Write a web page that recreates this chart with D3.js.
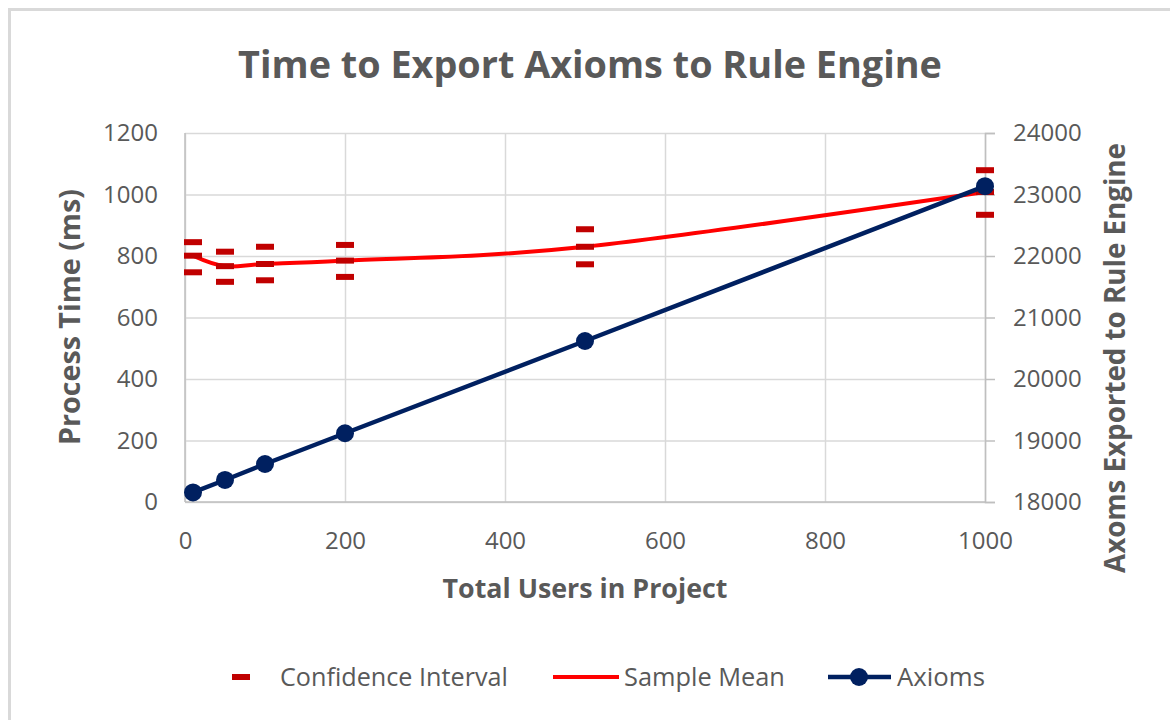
<!DOCTYPE html>
<html>
<head>
<meta charset="utf-8">
<script src="https://cdn.jsdelivr.net/npm/d3@7"></script>
<style>
  body { margin: 0; background: #fff; }
  svg { font-family: "Open Sans", sans-serif; }
</style>
</head>
<body>
<div id="chart"></div>
<script>
// values
const users = [10, 50, 100, 200, 500, 1000];
const sampleMean = [801, 767, 774, 785, 830, 1008];
const ciUpper = [845, 814, 830, 836, 887, 1079];
const ciLower = [747, 716, 721, 732, 773, 934];
const axioms = [18155, 18358, 18618, 19118, 20618, 23135];

const xTicks = [0, 200, 400, 600, 800, 1000];
const timeTicks = [0, 200, 400, 600, 800, 1000, 1200];
const axiomTicks = [18000, 19000, 20000, 21000, 22000, 23000, 24000];

const width = 1170, height = 720;
const plotLeft = 185, plotRight = 985, plotTop = 133, plotBottom = 502;
const grey = '#595959', gridColor = '#d9d9d9', axisColor = '#bfbfbf';
const ciColor = '#c00000', meanColor = '#ff0000', axiomColor = '#002060';

const svg = d3.select('#chart').append('svg')
  .attr('width', width)
  .attr('height', height);

// chart frame (only top and left edges are in view)
svg.append('path')
  .attr('d', `M9.5,${height} V9.5 H${width}`)
  .attr('fill', 'none')
  .attr('stroke', gridColor)
  .attr('stroke-width', 3);

const x = d3.scaleLinear().domain([0, 1000]).range([plotLeft, plotRight]);
const yTime = d3.scaleLinear().domain([0, 1200]).range([plotBottom, plotTop]);
const yAxioms = d3.scaleLinear().domain([18000, 24000]).range([plotBottom, plotTop]);

// gridlines
svg.append('g')
  .attr('transform', `translate(${plotLeft},0)`)
  .call(d3.axisLeft(yTime).tickValues(timeTicks).tickSize(-(plotRight - plotLeft)).tickFormat(''))
  .call(g => g.select('.domain').remove())
  .call(g => g.selectAll('line').attr('stroke', gridColor).attr('stroke-width', 1.5));

svg.append('g')
  .attr('transform', `translate(0,${plotBottom})`)
  .call(d3.axisBottom(x).tickValues(xTicks).tickSize(-(plotBottom - plotTop)).tickFormat(''))
  .call(g => g.select('.domain').remove())
  .call(g => g.selectAll('line').attr('stroke', gridColor).attr('stroke-width', 1.5));

// axis lines
svg.append('line')
  .attr('x1', plotLeft).attr('x2', plotLeft).attr('y1', plotTop).attr('y2', plotBottom)
  .attr('stroke', axisColor).attr('stroke-width', 1.5);
svg.append('line')
  .attr('x1', plotLeft).attr('x2', plotRight).attr('y1', plotBottom).attr('y2', plotBottom)
  .attr('stroke', axisColor).attr('stroke-width', 1.5);

// tick labels
const fontSize = 24;
const leftAxis = svg.append('g')
  .attr('transform', `translate(${plotLeft},0)`)
  .call(d3.axisLeft(yTime).tickValues(timeTicks).tickSize(0).tickPadding(27).tickFormat(d3.format('d')));
const bottomAxis = svg.append('g')
  .attr('transform', `translate(0,${plotBottom})`)
  .call(d3.axisBottom(x).tickValues(xTicks).tickSize(0).tickPadding(30).tickFormat(d3.format('d')));
const rightAxis = svg.append('g')
  .attr('transform', `translate(${plotRight},0)`)
  .call(d3.axisRight(yAxioms).tickValues(axiomTicks).tickSize(10).tickPadding(18).tickFormat(d3.format('d')));

[leftAxis, bottomAxis, rightAxis].forEach(g => {
  g.select('.domain').attr('stroke', axisColor).attr('stroke-width', 1.5);
  g.selectAll('.tick line').attr('stroke', axisColor).attr('stroke-width', 1.5);
  g.selectAll('text')
    .attr('fill', grey)
    .style('font-size', fontSize + 'px')
    .style('font-family', '"Open Sans", sans-serif');
});
leftAxis.select('.domain').remove();
bottomAxis.select('.domain').remove();

// mean line
const meanLine = d3.line()
  .x((d, i) => x(users[i]))
  .y(d => yTime(d))
  .curve(d3.curveCardinal.tension(0));

svg.append('path')
  .datum(sampleMean)
  .attr('d', meanLine)
  .attr('fill', 'none')
  .attr('stroke', meanColor)
  .attr('stroke-width', 4);

// confidence interval dashes: upper, mean, lower
const dashes = [];
users.forEach((u, i) => {
  dashes.push({ u: u, v: ciUpper[i] });
  dashes.push({ u: u, v: sampleMean[i] });
  dashes.push({ u: u, v: ciLower[i] });
});

svg.append('g')
  .selectAll('rect')
  .data(dashes)
  .enter().append('rect')
  .attr('x', d => x(d.u) - 9)
  .attr('y', d => yTime(d.v) - 3)
  .attr('width', 18)
  .attr('height', 6)
  .attr('fill', ciColor);

// axioms line with markers
const axiomLine = d3.line()
  .x((d, i) => x(users[i]))
  .y(d => yAxioms(d));

svg.append('path')
  .datum(axioms)
  .attr('d', axiomLine)
  .attr('fill', 'none')
  .attr('stroke', axiomColor)
  .attr('stroke-width', 4.5);

svg.append('g')
  .selectAll('circle')
  .data(axioms)
  .enter().append('circle')
  .attr('cx', (d, i) => x(users[i]))
  .attr('cy', d => yAxioms(d))
  .attr('r', 9)
  .attr('fill', axiomColor);

// titles, sized to the widths seen in the reference
function fitText(sel, targetWidth) {
  const size = parseFloat(sel.style('font-size'));
  const w = sel.node().getComputedTextLength();
  sel.style('font-size', (size * targetWidth / w) + 'px');
}

const title = svg.append('text')
  .attr('x', 590).attr('y', 78)
  .attr('text-anchor', 'middle')
  .attr('fill', grey)
  .style('font-weight', 'bold')
  .style('font-size', '36px')
  .text('Time to Export Axioms to Rule Engine');
fitText(title, 704);

const xTitle = svg.append('text')
  .attr('x', 585).attr('y', 598)
  .attr('text-anchor', 'middle')
  .attr('fill', grey)
  .style('font-weight', 'bold')
  .style('font-size', '24px')
  .text('Total Users in Project');
fitText(xTitle, 285);

const yTitle = svg.append('text')
  .attr('transform', 'translate(80,317) rotate(-90)')
  .attr('text-anchor', 'middle')
  .attr('fill', grey)
  .style('font-weight', 'bold')
  .style('font-size', '24px')
  .text('Process Time (ms)');
fitText(yTitle, 256);

const y2Title = svg.append('text')
  .attr('transform', 'translate(1125,358) rotate(-90)')
  .attr('text-anchor', 'middle')
  .attr('fill', grey)
  .style('font-weight', 'bold')
  .style('font-size', '24px')
  .text('Axoms Exported to Rule Engine');
fitText(y2Title, 430);

// legend
const legendY = 677;
const legend = svg.append('g');

legend.append('rect')
  .attr('x', 232).attr('y', legendY - 3)
  .attr('width', 18).attr('height', 6)
  .attr('fill', ciColor);
legend.append('line')
  .attr('x1', 553).attr('x2', 619).attr('y1', legendY).attr('y2', legendY)
  .attr('stroke', meanColor).attr('stroke-width', 4);
legend.append('line')
  .attr('x1', 828).attr('x2', 891).attr('y1', legendY).attr('y2', legendY)
  .attr('stroke', axiomColor).attr('stroke-width', 4.5);
legend.append('circle')
  .attr('cx', 859).attr('cy', legendY).attr('r', 9)
  .attr('fill', axiomColor);

const legendItems = [
  { label: 'Confidence Interval', x: 280, w: 228 },
  { label: 'Sample Mean', x: 624, w: 161 },
  { label: 'Axioms', x: 897, w: 88 }
];
legendItems.forEach(item => {
  const t = legend.append('text')
    .attr('x', item.x).attr('y', legendY)
    .attr('dy', '0.35em')
    .attr('fill', grey)
    .style('font-size', fontSize + 'px')
    .text(item.label);
  fitText(t, item.w);
});
</script>
</body>
</html>
